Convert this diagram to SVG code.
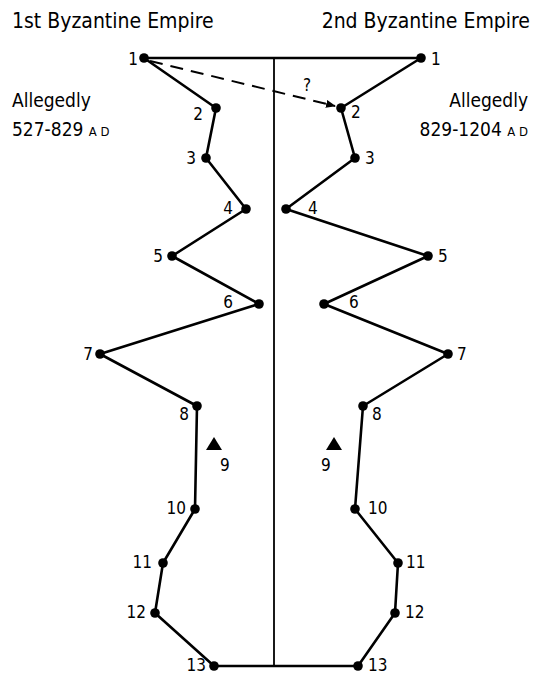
<svg xmlns="http://www.w3.org/2000/svg" width="541" height="678" viewBox="0 0 541 678">
<style>
text{font-family:"Liberation Sans Narrow","DejaVu Sans Condensed","Liberation Sans",sans-serif;fill:#000}
.t{font-size:21px}
.a{font-size:19px}
.sm{font-size:13px}
.n{font-size:17px}
.e{text-anchor:end}
.m{text-anchor:middle}
.ln{fill:none;stroke:#000;stroke-width:2.6;stroke-linejoin:round}
.c{fill:none;stroke:#000;stroke-width:1.8}
.d{fill:#000}
</style>
<defs>
<marker id="ah" markerWidth="10" markerHeight="8" refX="9" refY="4" orient="auto" markerUnits="userSpaceOnUse">
<path d="M0,0 L10,4 L0,8 Z" fill="#000"/>
</marker>
</defs>
<g id="titles">
<text class="t" x="12" y="28">1st Byzantine Empire</text>
<text class="t e" x="530" y="28">2nd Byzantine Empire</text>
<text class="a" x="12" y="107">Allegedly</text>
<text class="a" x="12" y="136">527-829 <tspan class="sm">A D</tspan></text>
<text class="a e" x="528" y="107">Allegedly</text>
<text class="a e" x="528" y="136">829-1204 <tspan class="sm">A D</tspan></text>
</g>
<g id="connectors">
<path class="c" d="M274,58 V666"/>
<path class="ln" d="M144,58 H421"/>
<path class="ln" d="M214,666 H358"/>
<path class="ln" d="M144,58 L216,108 L206,158 L246,209 L172,256 L259,304 L100,354 L197,406 L195,509 L163,563 L155,613 L214,666"/>
<path class="ln" d="M421,58 L341,108 L355,158 L286,209 L428,256 L324,304 L448,354 L363,406 L355,509 L398,563 L395,613 L358,666"/>
<path d="M150,61 L335,106" fill="none" stroke="#000" stroke-width="2" stroke-dasharray="13,8" marker-end="url(#ah)"/>
<text class="n m" x="307" y="91">?</text>
</g>
<g id="left-points">
<circle class="d" cx="144" cy="58" r="4.8"/><text class="n e" x="138" y="65">1</text>
<circle class="d" cx="216" cy="108" r="4.8"/><text class="n e" x="203" y="120">2</text>
<circle class="d" cx="206" cy="158" r="4.8"/><text class="n e" x="196" y="164">3</text>
<circle class="d" cx="246" cy="209" r="4.8"/><text class="n e" x="233" y="214">4</text>
<circle class="d" cx="172" cy="256" r="4.8"/><text class="n e" x="163" y="262">5</text>
<circle class="d" cx="259" cy="304" r="4.8"/><text class="n e" x="233" y="308">6</text>
<circle class="d" cx="100" cy="354" r="4.8"/><text class="n e" x="93" y="360">7</text>
<circle class="d" cx="197" cy="406" r="4.8"/><text class="n e" x="189" y="420">8</text>
<path class="d" d="M214,437 L222,450 L206,450 Z"/><text class="n" x="220" y="471">9</text>
<circle class="d" cx="195" cy="509" r="4.8"/><text class="n e" x="186" y="514">10</text>
<circle class="d" cx="163" cy="563" r="4.8"/><text class="n e" x="152" y="568">11</text>
<circle class="d" cx="155" cy="613" r="4.8"/><text class="n e" x="146" y="618">12</text>
<circle class="d" cx="214" cy="666" r="4.8"/><text class="n e" x="206" y="671">13</text>
</g>
<g id="right-points">
<circle class="d" cx="421" cy="58" r="4.8"/><text class="n" x="431" y="65">1</text>
<circle class="d" cx="341" cy="108" r="4.8"/><text class="n" x="351" y="118">2</text>
<circle class="d" cx="355" cy="158" r="4.8"/><text class="n" x="365" y="164">3</text>
<circle class="d" cx="286" cy="209" r="4.8"/><text class="n" x="308" y="214">4</text>
<circle class="d" cx="428" cy="256" r="4.8"/><text class="n" x="438" y="262">5</text>
<circle class="d" cx="324" cy="304" r="4.8"/><text class="n" x="349" y="308">6</text>
<circle class="d" cx="448" cy="354" r="4.8"/><text class="n" x="457" y="360">7</text>
<circle class="d" cx="363" cy="406" r="4.8"/><text class="n" x="372" y="420">8</text>
<path class="d" d="M334,437 L342,450 L326,450 Z"/><text class="n" x="321" y="471">9</text>
<circle class="d" cx="355" cy="509" r="4.8"/><text class="n" x="368" y="514">10</text>
<circle class="d" cx="398" cy="563" r="4.8"/><text class="n" x="406" y="568">11</text>
<circle class="d" cx="395" cy="613" r="4.8"/><text class="n" x="405" y="618">12</text>
<circle class="d" cx="358" cy="666" r="4.8"/><text class="n" x="368" y="671">13</text>
</g>
</svg>
